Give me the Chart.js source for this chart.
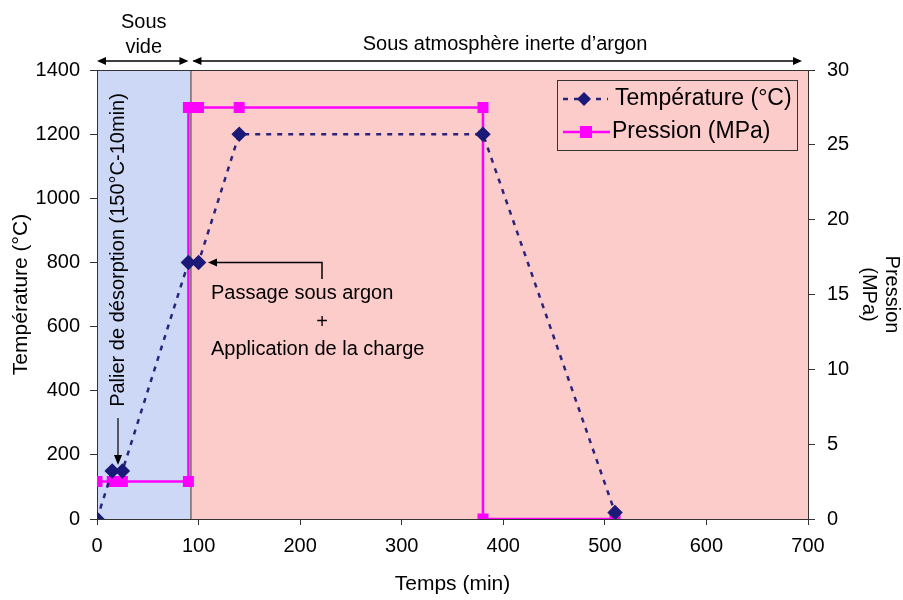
<!DOCTYPE html>
<html lang="fr">
<head>
  <meta charset="UTF-8">
  <title>Cycle de frittage</title>
  <script src="https://cdn.jsdelivr.net/npm/chart.js"></script>
  <style>
    html, body { margin: 0; padding: 0; background: #ffffff; }
    #wrap { width: 903px; height: 600px; }
  </style>
</head>
<body>
<div id="wrap"><canvas id="chart" width="903" height="600"></canvas></div>
<script>
  // data
  const timeTemp = [0, 15, 25, 90, 100, 140, 380, 510];
  const temperature = [0, 150, 150, 800, 800, 1200, 1200, 20];
  const timePress = [0, 15, 20, 25, 90, 90, 100, 140, 380, 380, 510];
  const pressure = [2.5, 2.5, 2.5, 2.5, 2.5, 27.5, 27.5, 27.5, 27.5, 0, 0];
  const vacuumEnd = 92;      // end of the "sous vide" stage (min)
  const xMax = 700;
  const tempMax = 1400;
  const pressMax = 30;

  const FONT = "'Liberation Sans', Arial, sans-serif";
  const navy = '#2a237a';
  const magenta = '#ff00ff';

  const toPoints = (xs, ys) => xs.map((x, i) => ({ x: x, y: ys[i] }));

  function arrowHead(ctx, x, y, dir) {
    // dir: 'left', 'right', 'down'
    ctx.beginPath();
    if (dir === 'left') { ctx.moveTo(x, y); ctx.lineTo(x + 9, y - 4); ctx.lineTo(x + 9, y + 4); }
    if (dir === 'right') { ctx.moveTo(x, y); ctx.lineTo(x - 9, y - 4); ctx.lineTo(x - 9, y + 4); }
    if (dir === 'down') { ctx.moveTo(x, y); ctx.lineTo(x - 4, y - 10); ctx.lineTo(x + 4, y - 10); }
    ctx.closePath();
    ctx.fill();
  }

  const zones = {
    id: 'zones',
    beforeDatasetsDraw(chart) {
      const { ctx, chartArea: a, scales: { x } } = chart;
      const xv = x.getPixelForValue(vacuumEnd);
      ctx.save();
      ctx.fillStyle = '#ccd8f6';
      ctx.fillRect(a.left, a.top, xv - a.left, a.bottom - a.top);
      ctx.fillStyle = '#fccccb';
      ctx.fillRect(xv, a.top, a.right - xv, a.bottom - a.top);
      ctx.strokeStyle = '#333333';
      ctx.lineWidth = 1;
      ctx.beginPath();
      ctx.moveTo(xv + 0.5, a.top); ctx.lineTo(xv + 0.5, a.bottom);
      ctx.stroke();
      ctx.strokeRect(a.left + 0.5, a.top + 0.5, a.right - a.left, a.bottom - a.top);
      ctx.restore();
    }
  };

  const notes = {
    id: 'notes',
    afterDraw(chart) {
      const { ctx, chartArea: a, scales: { x, y } } = chart;
      const xv = x.getPixelForValue(vacuumEnd);
      ctx.save();
      ctx.fillStyle = '#000';
      ctx.strokeStyle = '#000';
      ctx.lineWidth = 1.5;
      ctx.textAlign = 'center';
      ctx.textBaseline = 'middle';
      ctx.font = '20px ' + FONT;

      // top stage labels
      ctx.fillText('Sous', (a.left + xv) / 2, 22);
      ctx.fillText('vide', (a.left + xv) / 2, 47);
      ctx.fillText('Sous atmosphère inerte d\u2019argon', 505, 44);
      const ay = 61;
      ctx.beginPath();
      ctx.moveTo(a.left + 2, ay); ctx.lineTo(xv - 4, ay);
      ctx.moveTo(xv + 3, ay); ctx.lineTo(a.right - 8, ay);
      ctx.stroke();
      arrowHead(ctx, a.left, ay, 'left');
      arrowHead(ctx, xv - 2, ay, 'right');
      arrowHead(ctx, xv + 2, ay, 'left');
      arrowHead(ctx, a.right - 6, ay, 'right');

      // desorption plateau label
      ctx.save();
      ctx.translate(118, 250);
      ctx.rotate(-Math.PI / 2);
      ctx.fillText('Palier de désorption (150°C-10min)', 0, 0);
      ctx.restore();
      ctx.lineWidth = 1.2;
      ctx.beginPath();
      ctx.moveTo(118, 418); ctx.lineTo(118, 456);
      ctx.stroke();
      arrowHead(ctx, 118, 465, 'down');

      // argon / load label
      ctx.textAlign = 'left';
      ctx.fillText('Passage sous argon', 211, 293);
      ctx.fillText('Application de la charge', 211, 349);
      ctx.textAlign = 'center';
      ctx.fillText('+', 322, 322);
      const py = y.getPixelForValue(800);
      ctx.lineWidth = 1.5;
      ctx.beginPath();
      ctx.moveTo(322, 279); ctx.lineTo(322, py); ctx.lineTo(216, py);
      ctx.stroke();
      arrowHead(ctx, 208, py, 'left');

      // legend box
      const lx = 557, ly = 80, lw = 240, lh = 70;
      ctx.strokeStyle = '#333';
      ctx.lineWidth = 1;
      ctx.strokeRect(lx + 0.5, ly + 0.5, lw, lh);
      ctx.font = '23px ' + FONT;
      ctx.textAlign = 'left';
      ctx.fillStyle = '#000';
      ctx.fillText('Température (°C)', 615, 99);
      ctx.fillText('Pression (MPa)', 612, 132);
      ctx.lineWidth = 2.5;
      ctx.strokeStyle = navy;
      ctx.setLineDash([5, 6]);
      ctx.beginPath();
      ctx.moveTo(563, 99); ctx.lineTo(608, 99);
      ctx.stroke();
      ctx.setLineDash([]);
      ctx.fillStyle = '#1c1a78';
      ctx.beginPath();
      ctx.moveTo(584, 92); ctx.lineTo(591, 99); ctx.lineTo(584, 106); ctx.lineTo(577, 99);
      ctx.closePath(); ctx.fill();
      ctx.strokeStyle = magenta;
      ctx.beginPath();
      ctx.moveTo(563, 132); ctx.lineTo(610, 132);
      ctx.stroke();
      ctx.fillStyle = magenta;
      ctx.fillRect(580, 126, 12, 12);
      ctx.restore();
    }
  };

  const tickFont = { family: FONT, size: 20 };
  const plain = v => String(v);

  const ctx = document.getElementById('chart').getContext('2d');
  new Chart(ctx, {
    type: 'line',
    data: {
      datasets: [
        {
          label: 'Température (°C)',
          data: toPoints(timeTemp, temperature),
          yAxisID: 'y',
          borderColor: navy,
          borderWidth: 2.5,
          borderDash: [5, 6],
          pointStyle: 'rectRot',
          pointRadius: 6,
          pointBackgroundColor: '#1c1a78',
          pointBorderColor: '#1c1a78',
          tension: 0,
          order: 1
        },
        {
          label: 'Pression (MPa)',
          data: toPoints(timePress, pressure),
          yAxisID: 'y1',
          borderColor: magenta,
          borderWidth: 2.5,
          pointStyle: 'rect',
          pointRadius: 6,
          pointBackgroundColor: magenta,
          pointBorderColor: magenta,
          tension: 0,
          order: 2
        }
      ]
    },
    options: {
      responsive: false,
      animation: false,
      layout: { padding: { top: 70, left: 0, right: 0, bottom: 0 } },
      plugins: {
        legend: { display: false },
        tooltip: { enabled: false }
      },
      scales: {
        x: {
          type: 'linear',
          min: 0,
          max: xMax,
          afterFit: s => { s.height = 81; },
          ticks: { stepSize: 100, color: '#000', font: tickFont, padding: 9, callback: plain },
          grid: { drawOnChartArea: false, color: '#333', tickLength: 6 },
          border: { color: '#333' },
          title: { display: true, text: 'Temps (min)', color: '#000', font: { family: FONT, size: 21 }, padding: { top: 4, bottom: 3 } }
        },
        y: {
          position: 'left',
          min: 0,
          max: tempMax,
          afterFit: s => { s.width = 97; },
          ticks: { stepSize: 200, color: '#000', font: tickFont, padding: 10, callback: plain },
          grid: { drawOnChartArea: false, color: '#333', tickLength: 7 },
          border: { color: '#333' },
          title: { display: true, text: 'Température (°C)', color: '#000', font: { family: FONT, size: 21 }, padding: { top: 9, bottom: 4 } }
        },
        y1: {
          position: 'right',
          min: 0,
          max: pressMax,
          afterFit: s => { s.width = 95; },
          ticks: { stepSize: 5, color: '#000', font: tickFont, padding: 12, callback: plain },
          grid: { drawOnChartArea: false, color: '#333', tickLength: 7 },
          border: { color: '#333' },
          title: { display: true, text: ['Pression', '(MPa)'], color: '#000', font: { family: FONT, size: 20, lineHeight: 1.15 }, padding: { top: 0, bottom: 4 } }
        }
      }
    },
    plugins: [zones, notes]
  });
</script>
</body>
</html>
